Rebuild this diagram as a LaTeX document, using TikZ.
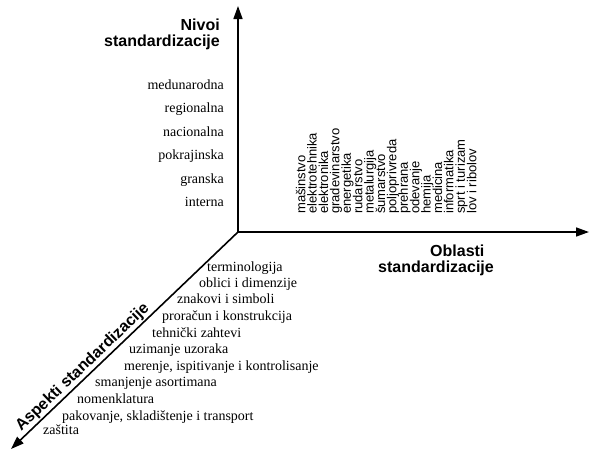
\documentclass[tikz,border=0pt]{standalone}
\usepackage{fontspec}
\setmainfont{Liberation Serif}
\setsansfont{Liberation Sans}
\usetikzlibrary{arrows.meta}

\tikzset{
    osa/.style={line width=1.6pt, -{Triangle[length=13pt,width=9pt]}},
    naslov/.style={font=\sffamily\bfseries\fontsize{16}{16}\selectfont, inner sep=0pt},
    stavka/.style={font=\fontsize{14}{14}\selectfont, inner sep=0pt},
    oblast/.style={font=\sffamily\fontsize{13}{13}\selectfont, inner sep=0pt, rotate=90, anchor=mid west}
}

\begin{document}
\begin{tikzpicture}[x=1pt,y=-1pt]
    \useasboundingbox (0,0) rectangle (590,451);

    % axes
    \coordinate (o) at (238,232);
    \coordinate (nivo) at (238,6);
    \coordinate (oblast) at (589,232);
    \coordinate (aspekt) at (11,449);
    \draw[osa] (o) -- (nivo);
    \draw[osa] (o) -- (oblast);
    \draw[osa] (o) -- (aspekt);

    % axis titles
    \node[naslov, align=right, anchor=north east] (nivotxt) at (220,19) {Nivoi\\standardizacije};
    \node[naslov, anchor=base west] (obltxt1) at (430,256) {Oblasti};
    \node[naslov, anchor=base west] (obltxt2) at (378,272) {standardizacije};
    \node[naslov, rotate=43.7, anchor=south] (asptxt) at (88,373) {Aspekti standardizacije};

    % levels
    \foreach \t [count=\i] in {medunarodna, regionalna, nacionalna, pokrajinska, granska, interna} {
        \node[stavka, anchor=mid east] (niv\i) at (224,{63.6+23.5*\i}) {\t};
    }

    % fields
    \foreach \t [count=\i from 0] in {mašinstvo, elektrotehnika, elektronika, gradevinarstvo, energetika, rudarstvo, metalurgija, šumarstvo, poljoprivreda, prehrana, odevanje, hemija, medicina, informatika, sprt i turizam, lov i ribolov} {
        \node[oblast] (obl\i) at ({303+11.4*\i},214) {\t};
    }

    % aspects
    \foreach \x/\y/\t [count=\i] in {207/269/terminologija, 199/285/oblici i dimenzije, 177/301/znakovi i simboli, 162/318/proračun i konstrukcija, 152/335/tehnički zahtevi, 129/351/uzimanje uzoraka, 124/368/{merenje, ispitivanje i kontrolisanje}, 95/384/smanjenje asortimana, 77/401/nomenklatura, 62/418/{pakovanje, skladištenje i transport}, 43/432/zaštita} {
        \node[stavka, anchor=mid west] (asp\i) at (\x,\y) {\t};
    }
\end{tikzpicture}
\end{document}
